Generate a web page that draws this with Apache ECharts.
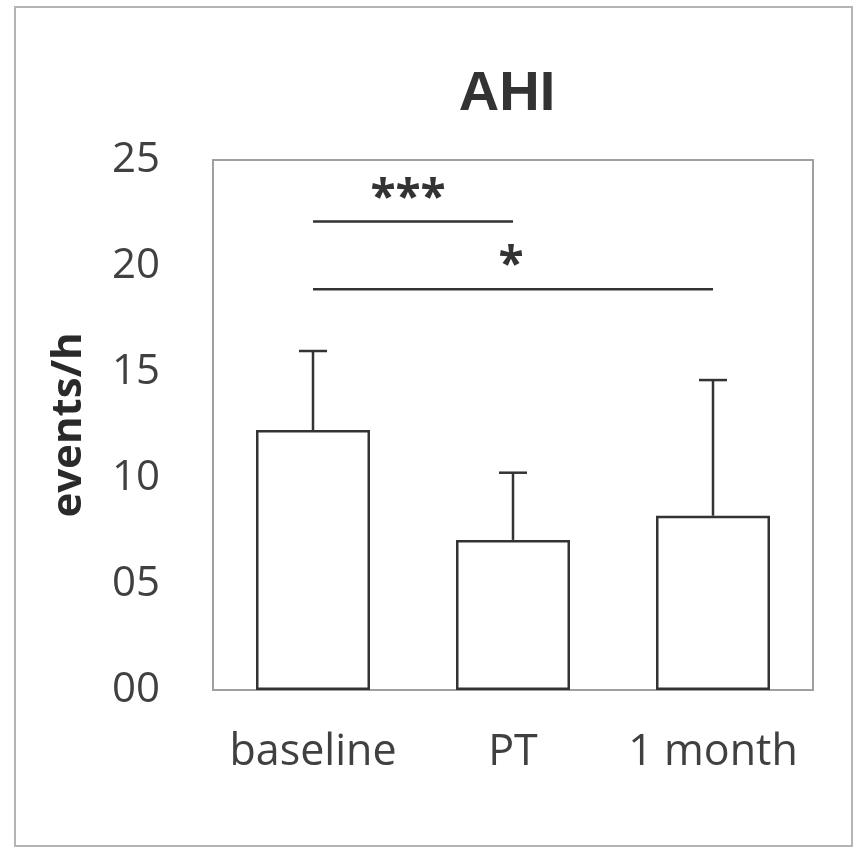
<!DOCTYPE html>
<html>
<head>
<meta charset="utf-8">
<script src="https://cdn.jsdelivr.net/npm/echarts@6/dist/echarts.min.js"></script>
<style>html,body{margin:0;padding:0;background:#fff}#c{width:854px;height:848px}</style>
</head>
<body>
<div id="c"></div>
<script>
var categories = ['baseline', 'PT', '1 month'];
var means = [12.26, 7.08, 8.22];
var upper = [15.99, 10.25, 14.62];
var yTicks = ['00', '05', '10', '15', '20', '25'];
var sigFrom = [0, 0];
var sigTo = [1, 2];
var sigLevel = [22.1, 18.9];
var sigText = ['***', '*'];

var chart = echarts.init(document.getElementById('c'), null, {renderer: 'canvas'});
var textColor = '#404040';
var lineColor = '#333333';

var errData = categories.map(function (c, i) { return [i, means[i], upper[i]]; });
var sigData = sigFrom.map(function (f, i) { return [f, sigTo[i], sigLevel[i], sigText[i]]; });

chart.setOption({
  animation: false,
  backgroundColor: '#fff',
  title: {
    text: 'AHI', left: 502, top: 62, textAlign: 'center',
    textStyle: {fontFamily: 'Liberation Sans', fontWeight: 'bold', fontSize: 56, color: '#333'}
  },
  graphic: [{
    type: 'rect', shape: {x: 15, y: 7, width: 837, height: 839},
    style: {fill: 'none', stroke: '#b4b4b4', lineWidth: 2}, silent: true, z: -1
  }],
  grid: {left: 213, top: 160, right: 41, bottom: 158, show: true, borderColor: '#a0a0a0', borderWidth: 2, backgroundColor: '#fff'},
  xAxis: {
    type: 'category', data: categories,
    axisLine: {show: false}, axisTick: {show: false}, splitLine: {show: false},
    axisLabel: {interval: 0, margin: 41, fontFamily: 'Open Sans', fontSize: 43, color: textColor}
  },
  yAxis: {
    type: 'value', min: 0, max: 25, interval: 5,
    name: 'events/h', nameLocation: 'middle', nameGap: 123,
    nameTextStyle: {fontFamily: 'Open Sans', fontWeight: 'bold', fontSize: 42, color: '#2a2a2a'},
    axisLine: {show: false}, axisTick: {show: false}, splitLine: {show: false},
    axisLabel: {
      margin: 53, fontFamily: 'Open Sans', fontSize: 42, color: textColor,
      formatter: function (v) { return yTicks[Math.round(v / 5)]; }
    }
  },
  series: [{
    type: 'bar', data: means, barWidth: '57%',
    itemStyle: {color: '#fff', borderColor: lineColor, borderWidth: 2.5}
  }, {
    type: 'custom', data: errData, z: 3,
    renderItem: function (params, api) {
      var b = api.coord([api.value(0), api.value(1)]);
      var t = api.coord([api.value(0), api.value(2)]);
      var st = {stroke: lineColor, lineWidth: 2.5};
      return {type: 'group', children: [
        {type: 'line', shape: {x1: b[0], y1: b[1], x2: t[0], y2: t[1]}, style: st},
        {type: 'line', shape: {x1: t[0] - 14, y1: t[1], x2: t[0] + 14, y2: t[1]}, style: st}
      ]};
    }
  }, {
    type: 'custom', data: sigData, z: 3,
    renderItem: function (params, api) {
      var a = api.coord([api.value(0), api.value(2)]);
      var b = api.coord([api.value(1), api.value(2)]);
      var txt = sigText[params.dataIndex];
      return {type: 'group', children: [
        {type: 'line', shape: {x1: a[0], y1: a[1], x2: b[0], y2: b[1]}, style: {stroke: lineColor, lineWidth: 2.5}},
        {type: 'text', x: (a[0] + b[0]) / 2 - (txt.length > 1 ? 5 : 2), y: a[1] - 22,
          style: {text: txt, fontFamily: 'Open Sans', fontSize: 46, fontWeight: 'bold', fill: '#333', align: 'center', verticalAlign: 'middle'}}
      ]};
    }
  }]
});
</script>
</body>
</html>
